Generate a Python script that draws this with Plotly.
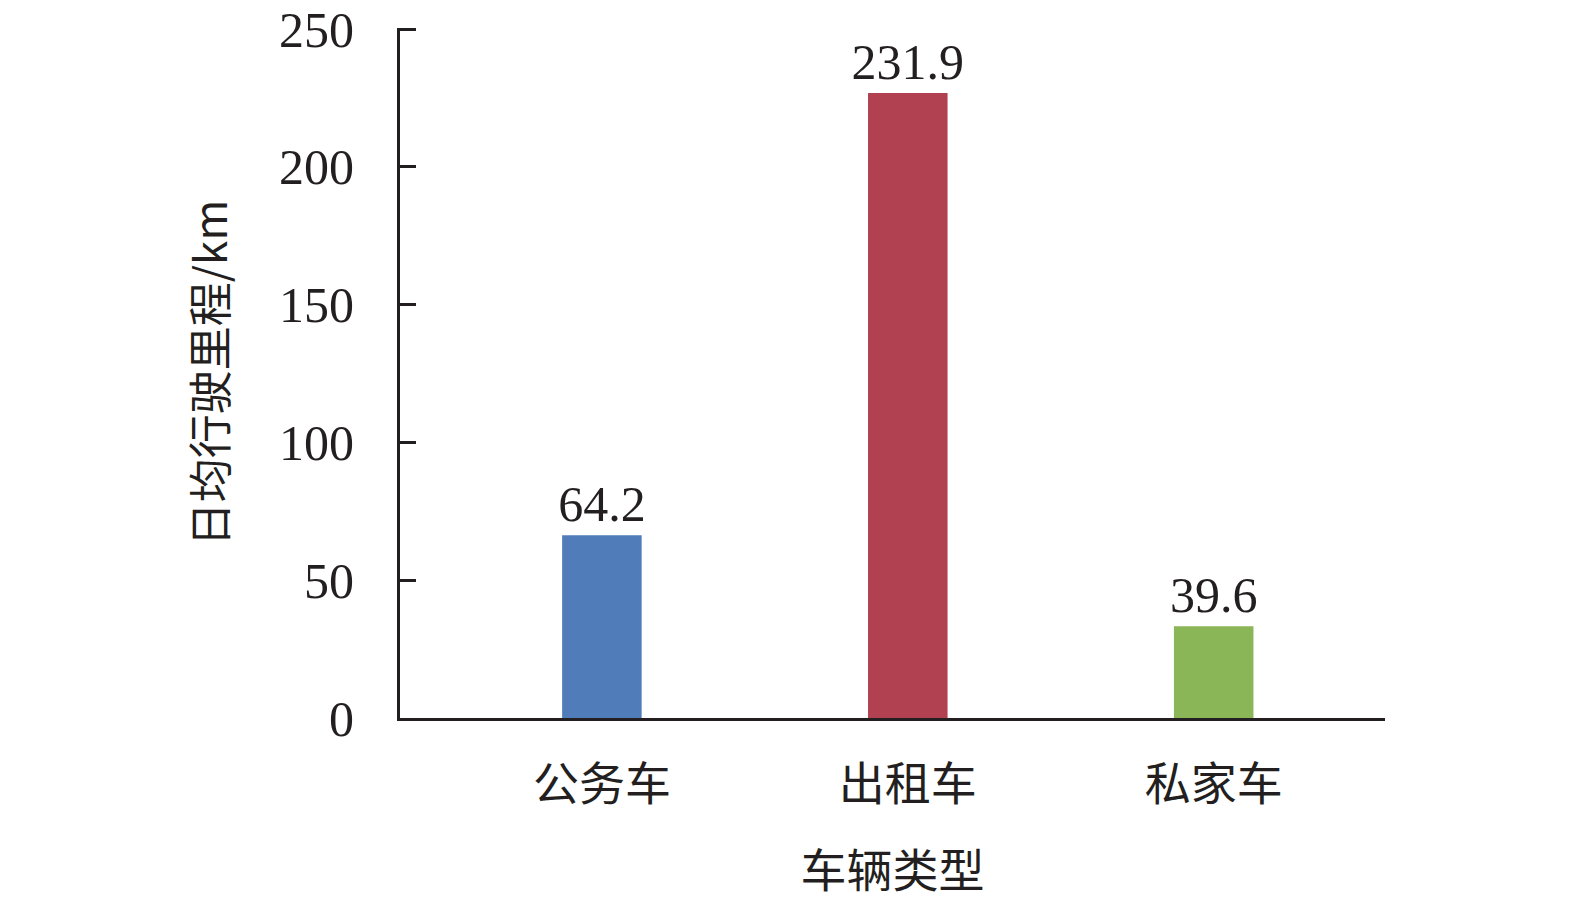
import plotly.graph_objects as go

categories = ["公务车", "出租车", "私家车"]
bar_heights = [66.3, 226.8, 33.3]       # drawn bar heights
value_labels = ["64.2", "231.9", "39.6"]  # printed labels
colors = ["#507cb9", "#b14150", "#8ab657"]
y_ticks = [0, 50, 100, 150, 200, 250]

FONT = "Liberation Serif, Times New Roman, Noto Sans CJK SC, serif"
CJK = "Noto Sans CJK SC"
INK = "#231f20"

fig = go.Figure(go.Bar(
    x=categories, y=bar_heights,
    marker=dict(color=colors, line=dict(width=0)),
    width=0.26,
    text=value_labels, textposition="outside", constraintext="none",
    textfont=dict(family=FONT, size=50, color=INK),
    cliponaxis=False,
))

fig.update_layout(
    width=1575, height=902,
    margin=dict(l=400, r=190, t=28, b=184),
    plot_bgcolor="white", paper_bgcolor="white",
    showlegend=False,
    font=dict(family=FONT, color=INK),
)
fig.update_xaxes(
    range=[-0.66, 2.56], automargin=False,
    showline=True, linecolor=INK, linewidth=3,
    ticks="", showgrid=False,
    ticklabelstandoff=24,
    tickfont=dict(family=CJK, size=46, color=INK),
    title=dict(text="车辆类型", font=dict(family=CJK, size=46, color=INK), standoff=43),
)
fig.update_yaxes(
    range=[0, 250.4], tickvals=y_ticks, automargin=False,
    showline=True, linecolor=INK, linewidth=3,
    ticks="inside", ticklen=16, tickwidth=3, tickcolor=INK,
    showgrid=False, zeroline=False,
    ticklabelstandoff=33, ticklabeloverflow="allow",
    tickfont=dict(family=FONT, size=50, color=INK),
    title=dict(text="日均行驶里程/km", font=dict(family=CJK, size=44, color=INK), standoff=38),
)

fig.write_html("out.html", config={"displayModeBar": False},
               post_script="document.body.style.margin='0';")
